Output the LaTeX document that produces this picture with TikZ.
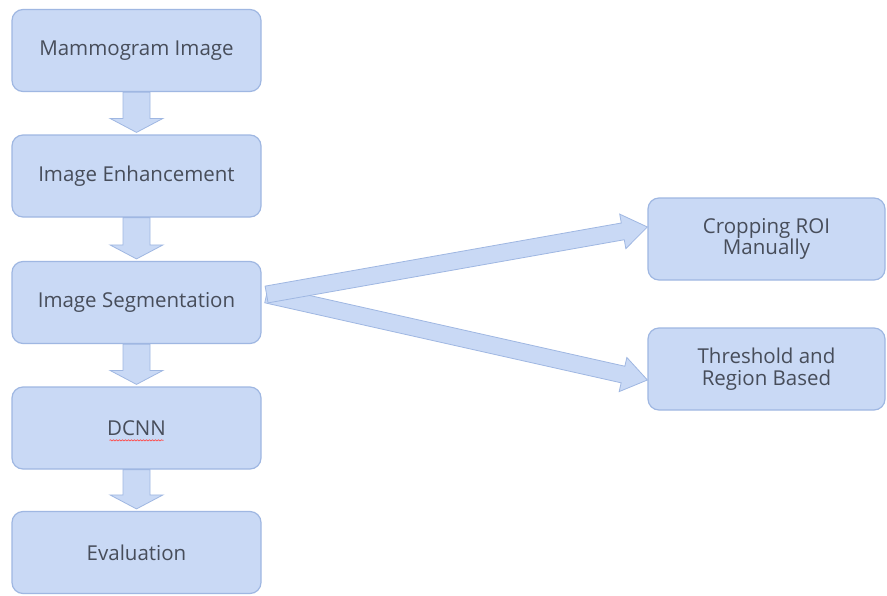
\documentclass[tikz,border=0pt]{standalone}
\usepackage{fontspec}
\setmainfont{Open Sans}
\usetikzlibrary{calc,decorations.pathmorphing}
\definecolor{boxfill}{HTML}{C9D9F5}
\definecolor{boxline}{HTML}{9FB7E2}
\definecolor{txt}{HTML}{474D5A}
\tikzset{
  stepbox/.style={draw=boxline, fill=boxfill, line width=1.2pt, rounded corners=11pt,
    minimum width=249pt, minimum height=82pt, align=center, text=txt,
    font=\fontsize{20.5}{21.5}\selectfont, inner sep=0pt},
  sidebox/.style={stepbox, minimum width=237pt},
  blockarrow/.style={draw=boxline, fill=boxfill, line width=0.8pt, line join=miter}
}
\newcommand{\downarr}[2]{%
  \draw[blockarrow] ($(#1.south)+(-13.5,0)$) -- ($(#1.south)+(13.5,0)$) -- ($(#2.north)+(13.5,-16)$)
    -- ($(#2.north)+(26.5,-16)$) -- ($(#2.north)+(0,-2)$) -- ($(#2.north)+(-26.5,-16)$)
    -- ($(#2.north)+(-13.5,-16)$) -- cycle;}
\newcommand{\diagarr}[2]{%
  \coordinate (H) at ($(#2)!25pt!(#1)$);
  \draw[blockarrow] ($(#1)!8.5pt!90:(#2)$) -- ($(H)!8.5pt!90:(#2)$) -- ($(H)!17.5pt!90:(#2)$) -- (#2)
    -- ($(H)!17.5pt!-90:(#2)$) -- ($(H)!8.5pt!-90:(#2)$) -- ($(#1)!8.5pt!-90:(#2)$) -- cycle;}
\begin{document}
\begin{tikzpicture}[x=1pt,y=-1pt]
\useasboundingbox[fill=white] (0,0) rectangle (887,595);
\node[stepbox] (mam) at (136.5,50.5) {Mammogram Image};
\node[stepbox] (enh) at (136.5,176) {Image Enhancement};
\node[stepbox] (seg) at (136.5,302.5) {Image Segmentation};
\node[stepbox] (dcnn) at (136.5,428) {DCNN};
\node[stepbox] (eval) at (136.5,552.5) {Evaluation};
\node[sidebox] (crop) at (766.5,239) {Cropping ROI\\Manually};
\node[sidebox] (thr) at (766.5,369) {Threshold and\\Region Based};
\downarr{mam}{enh}
\downarr{enh}{seg}
\downarr{seg}{dcnn}
\downarr{dcnn}{eval}
\coordinate (s1) at ($(seg.east)+(5,-8)$);
\coordinate (t1) at ($(crop.west)+(0,-12)$);
\coordinate (t2) at ($(thr.west)+(0,11)$);
\diagarr{s1}{t2}
\diagarr{s1}{t1}
\draw[red!70, line width=0.7pt, decorate, decoration={snake, amplitude=0.6pt, segment length=3pt}]
  ($(dcnn.base west)!0.5!(dcnn.base east)+(-27,5)$) -- ($(dcnn.base west)!0.5!(dcnn.base east)+(27,5)$);
\end{tikzpicture}
\end{document}
